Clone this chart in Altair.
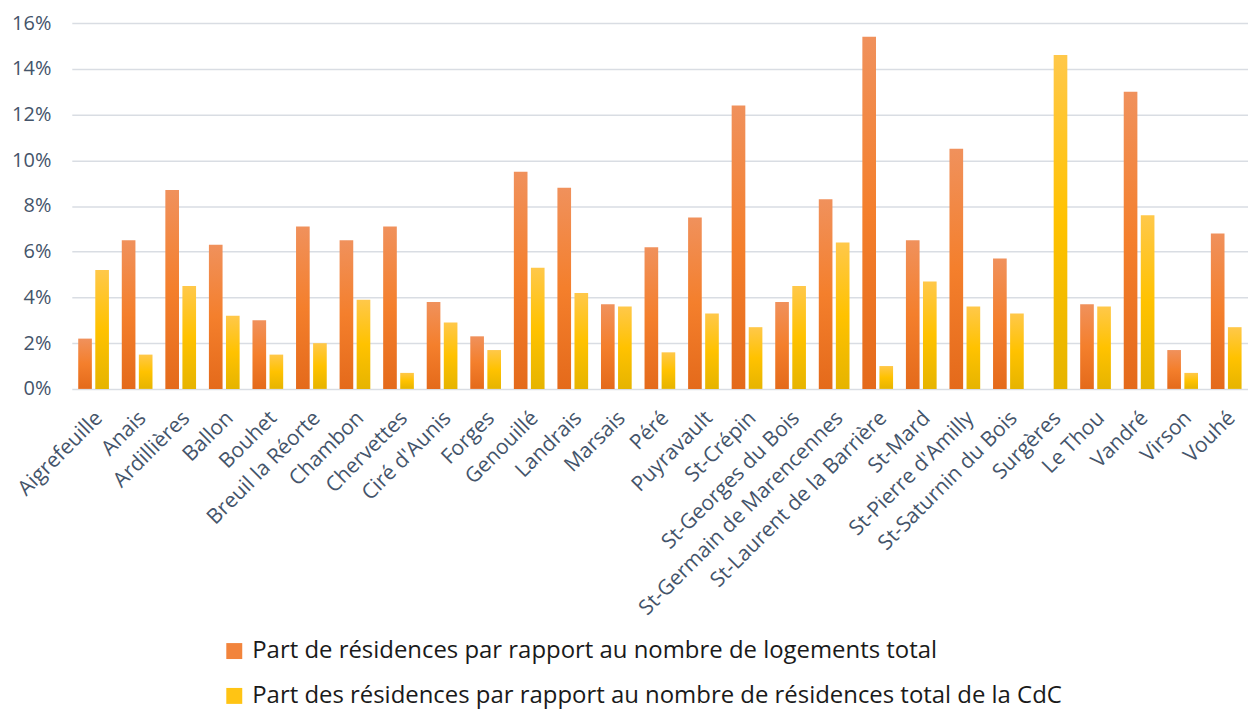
import altair as alt
import pandas as pd

communes = ["Aigrefeuille", "Anais", "Ardillières", "Ballon", "Bouhet", "Breuil la Réorte",
            "Chambon", "Chervettes", "Ciré d'Aunis", "Forges", "Genouillé", "Landrais",
            "Marsais", "Péré", "Puyravault", "St-Crépin", "St-Georges du Bois",
            "St-Germain de Marencennes", "St-Laurent de la Barrière", "St-Mard",
            "St-Pierre d'Amilly", "St-Saturnin du Bois", "Surgères", "Le Thou", "Vandré",
            "Virson", "Vouhé"]

serie_a = "Part de résidences par rapport au nombre de logements total"
serie_b = "Part des résidences par rapport au nombre de résidences total de la CdC"

part_logements = [2.2, 6.5, 8.7, 6.3, 3.0, 7.1, 6.5, 7.1, 3.8, 2.3, 9.5, 8.8, 3.7, 6.2,
                  7.5, 12.4, 3.8, 8.3, 15.4, 6.5, 10.5, 5.7, 0.0, 3.7, 13.0, 1.7, 6.8]
part_cdc = [5.2, 1.5, 4.5, 3.2, 1.5, 2.0, 3.9, 0.7, 2.9, 1.7, 5.3, 4.2, 3.6, 1.6,
            3.3, 2.7, 4.5, 6.4, 1.0, 4.7, 3.6, 3.3, 14.6, 3.6, 7.6, 0.7, 2.7]

y_ticks = [0, 2, 4, 6, 8, 10, 12, 14, 16]

rows = []
for c, a, b in zip(communes, part_logements, part_cdc):
    rows.append({"commune": c, "serie": serie_a, "valeur": a})
    rows.append({"commune": c, "serie": serie_b, "valeur": b})
df = pd.DataFrame(rows)

grad_orange = alt.LinearGradient(
    gradient="linear", x1=0, y1=0, x2=0, y2=1,
    stops=[alt.GradientStop(offset=0, color="#F0915C"),
           alt.GradientStop(offset=0.5, color="#F47F2C"),
           alt.GradientStop(offset=1, color="#E46A1B")])
grad_jaune = alt.LinearGradient(
    gradient="linear", x1=0, y1=0, x2=0, y2=1,
    stops=[alt.GradientStop(offset=0, color="#FFC84A"),
           alt.GradientStop(offset=0.5, color="#FFC200"),
           alt.GradientStop(offset=1, color="#E6B400")])

FONT = "Open Sans"
TXT = "#44546A"

x_enc = alt.X("commune:N", sort=communes, title=None,
              scale=alt.Scale(paddingInner=0.295, paddingOuter=0.1475),
              axis=alt.Axis(labelAngle=-45, labelFontSize=21, labelFont=FONT,
                            labelColor=TXT, domain=False, ticks=False, grid=False,
                            labelPadding=18, labelOffset=-2, labelLimit=0,
                            labelOverlap=False))
xo_enc = alt.XOffset("serie:N", scale=alt.Scale(domain=[serie_a, serie_b], paddingInner=0.2))
y_enc = alt.Y("valeur:Q", title=None,
              scale=alt.Scale(domain=[0, 16], nice=False),
              axis=alt.Axis(values=y_ticks, labelExpr="datum.value + '%'",
                            labelFontSize=20, labelFont=FONT, labelColor=TXT,
                            domain=False, ticks=False, labelPadding=21,
                            gridColor="#D9DDE3", gridWidth=1.5))

base = alt.Chart(df).encode(x=x_enc, xOffset=xo_enc, y=y_enc)

bars_a = base.transform_filter(alt.datum.serie == serie_a).mark_bar(fill=grad_orange)
bars_b = base.transform_filter(alt.datum.serie == serie_b).mark_bar(fill=grad_jaune)

legend_layer = base.mark_square(size=0, opacity=1).encode(
    y=alt.datum(0),
    color=alt.Color("serie:N",
                    scale=alt.Scale(domain=[serie_a, serie_b], range=["#F2843C", "#FFC414"]),
                    legend=alt.Legend(title=None, orient="none", legendX=151, legendY=618,
                                      direction="vertical", symbolType="square",
                                      symbolSize=256, labelFontSize=24, labelFont=FONT,
                                      labelColor="#1A1A1A", labelLimit=0, rowPadding=21,
                                      labelOffset=6))
)

chart = alt.layer(bars_a, bars_b, legend_layer).properties(
    width=1180, height=367,
    autosize=alt.AutoSizeParams(type="none"),
    padding={"left": 64, "top": 14, "right": 0, "bottom": 322},
).configure_view(stroke=None)

chart.save("out.html", embed_options={"renderer": "svg", "actions": False})
